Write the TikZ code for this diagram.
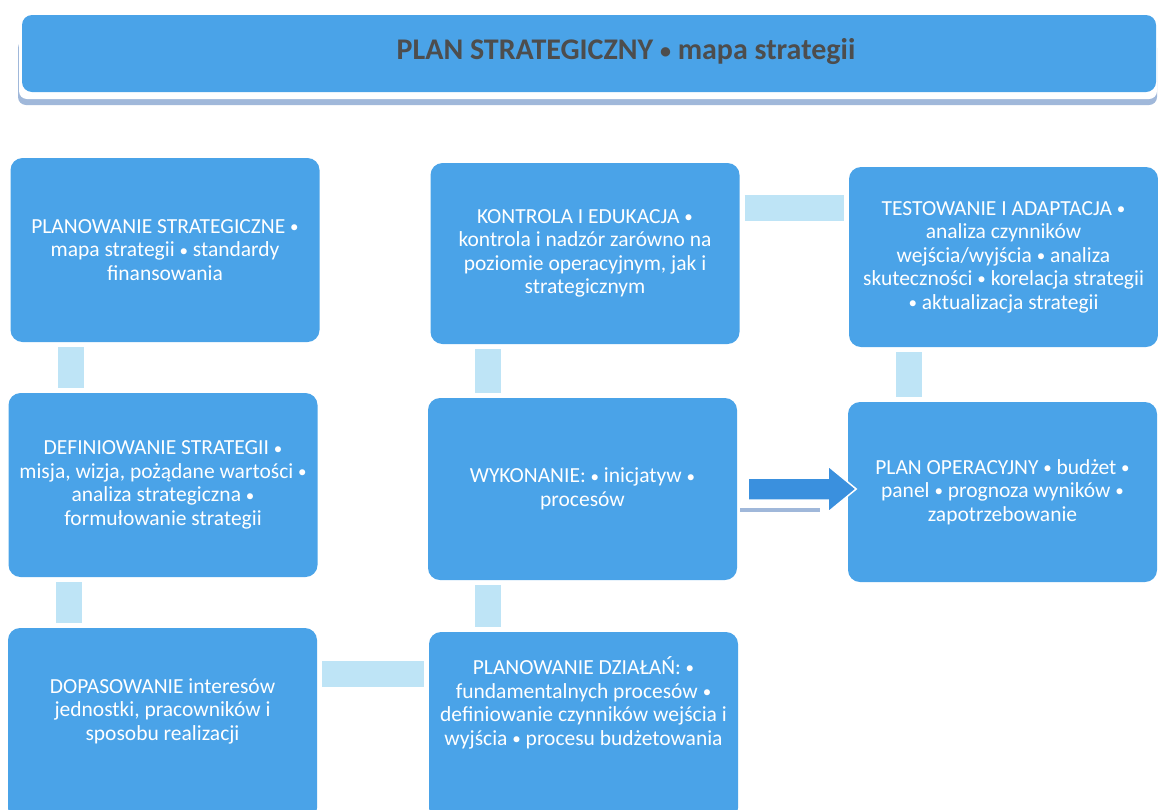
\documentclass[tikz,border=0pt]{standalone}
\usepackage{fontspec}
\setmainfont{Carlito}
\usepackage{xcolor}
\usepackage{tikz}

\definecolor{boxblue}{RGB}{74,163,232}
\definecolor{linkblue}{RGB}{190,228,246}
\definecolor{arrowblue}{RGB}{58,144,222}
\definecolor{shadeblue}{RGB}{160,184,218}
\definecolor{titlegray}{RGB}{77,77,77}
\newcommand{\bul}{\raisebox{0.8pt}{\fontsize{17}{17}\selectfont •}}

\begin{document}
\begin{tikzpicture}[x=1pt,y=-1pt,
    box/.style={fill=boxblue, rounded corners=12pt, text=white, align=center,
      minimum width=309pt, minimum height=182pt, inner sep=0pt,
      font=\fontsize{21.5}{23.5}\selectfont},
    link/.style={draw=linkblue, line width=26pt, shorten <=5pt, shorten >=5pt},
    flow/.style={fill=arrowblue, draw=white, line width=1.5pt, line join=miter},
    banner/.style={fill=boxblue, rounded corners=10pt}]
  \useasboundingbox (0,0) rectangle (1158,809);
  \clip (0,0) rectangle (1158,809);
  % title bar
  \fill[shadeblue, rounded corners=8pt] (18,40) rectangle (1157,105);
  \fill[white, rounded corners=8pt] (19,36) rectangle (1157,99);
  \node[banner, minimum width=1134pt, minimum height=77pt] (banner) at (589,53.5) {};
  \node[font=\fontsize{30}{34}\selectfont\bfseries, text=titlegray] (title) at (626,52)
    {PLAN STRATEGICZNY \raisebox{1pt}{\fontsize{22}{22}\selectfont •} mapa strategii};
  % left column
  \node[box, minimum height=184pt] (b1) at (165,250)
    {PLANOWANIE STRATEGICZNE \bul\\ mapa strategii \bul{} standardy\\ finansowania};
  \node[box, minimum height=184pt] (b2) at (163,485)
    {DEFINIOWANIE STRATEGII \bul\\ misja, wizja, pożądane wartości \bul\\ analiza strategiczna \bul\\ formułowanie strategii};
  \node[box, minimum height=192pt, text depth=29pt] (b3) at (162.5,724)
    {DOPASOWANIE interesów\\ jednostki, pracowników i\\ sposobu realizacji};
  % middle column
  \node[box, minimum height=181pt] (b4) at (585,253.5)
    {KONTROLA I EDUKACJA \bul\\ kontrola i nadzór zarówno na\\ poziomie operacyjnym, jak i\\ strategicznym};
  \node[box] (b5) at (582.5,489)
    {WYKONANIE: \bul{} inicjatyw \bul\\ procesów};
  \node[box, minimum height=188pt, text depth=50pt] (b6) at (583.5,726)
    {PLANOWANIE DZIAŁAŃ: \bul\\ fundamentalnych procesów \bul\\ definiowanie czynników wejścia i\\ wyjścia \bul{} procesu budżetowania};
  % right column
  \node[box, minimum height=180pt] (b7) at (1003.5,257)
    {TESTOWANIE I ADAPTACJA \bul\\ analiza czynników\\ wejścia/wyjścia \bul{} analiza\\ skuteczności \bul{} korelacja strategii\\ \bul{} aktualizacja strategii};
  \node[box, minimum height=180pt] (b8) at (1002.5,492)
    {PLAN OPERACYJNY \bul{} budżet \bul\\ panel \bul{} prognoza wyników \bul\\ zapotrzebowanie};
  % links
  \draw[link] ([xshift=61pt]b1.south west) -- ([xshift=61pt]b1.south west |- b2.north);
  \draw[link] ([xshift=61pt]b2.south west) -- ([xshift=61pt]b2.south west |- b3.north);
  \draw[link] ([yshift=-46pt]b3.north east) -- ([yshift=-46pt]b3.north east -| b6.west);
  \draw[link] ([xshift=59pt]b6.north west) -- ([xshift=59pt]b6.north west |- b5.south);
  \draw[link] ([xshift=60pt]b5.north west) -- ([xshift=60pt]b5.north west |- b4.south);
  \draw[link] ([yshift=-45pt]b4.north east) -- ([yshift=-45pt]b4.north east -| b7.west);
  \draw[link] ([xshift=60pt]b7.south west) -- ([xshift=60pt]b7.south west |- b8.north);
  % arrow
  \fill[shadeblue] ([shift={(3pt,-19pt)}]b5.east) rectangle ++(80pt,-4pt);
  \filldraw[flow] ([shift={(11pt,11pt)}]b5.east) -- ++(80pt,0) -- ++(0,12pt)
    -- ++(28pt,-23pt) -- ++(-28pt,-23pt) -- ++(0,12pt) -- ++(-80pt,0) -- cycle;
\end{tikzpicture}
\end{document}
